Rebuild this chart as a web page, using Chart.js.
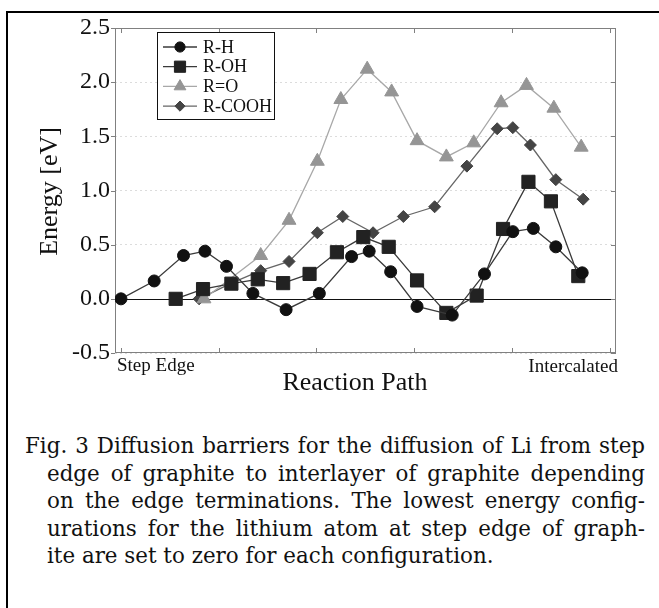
<!DOCTYPE html>
<html>
<head>
<meta charset="utf-8">
<title>Diffusion barriers</title>
<script src="https://cdn.jsdelivr.net/npm/chart.js@4.4.1/dist/chart.umd.min.js"></script>
<style>
  html, body { margin: 0; padding: 0; background: #fff; overflow: hidden; }
  #page { position: relative; width: 659px; height: 608px; overflow: hidden; }
  #frame { position: absolute; left: 6px; top: 11px; width: 720px; height: 720px;
           border-top: 2px solid #000; border-left: 2px solid #000; }
  #wrap { position: absolute; left: 0; top: 0; width: 659px; height: 420px; }
  .cl { position: absolute; font-family: 'DejaVu Serif', serif; color: #111;
        line-height: 27.5px; text-align: justify; text-align-last: justify; }
  .cl.last { text-align: left; text-align-last: left; }
</style>
</head>
<body>
<div id="page">
<div id="frame"></div>
<div id="wrap"><canvas id="energyChart" width="659" height="420"></canvas></div>
<div id="caption"></div>
</div>

<script>
// reaction path coordinate (tick every 1 unit), energies in eV
const rhX = [0, 0.34, 0.64, 0.86, 1.08, 1.35, 1.69, 2.03, 2.36, 2.54, 2.76, 3.03, 3.39, 3.72, 4.01, 4.22, 4.45, 4.72];
const rhY = [0, 0.165, 0.40, 0.44, 0.30, 0.05, -0.10, 0.05, 0.39, 0.44, 0.25, -0.07, -0.15, 0.23, 0.62, 0.65, 0.48, 0.24];

const rohX = [0.56, 0.84, 1.13, 1.40, 1.66, 1.93, 2.21, 2.48, 2.74, 3.03, 3.33, 3.64, 3.91, 4.17, 4.40, 4.68];
const rohY = [0, 0.09, 0.14, 0.18, 0.145, 0.23, 0.43, 0.57, 0.48, 0.17, -0.13, 0.03, 0.645, 1.08, 0.90, 0.21];

const roX = [0.85, 1.43, 1.72, 2.01, 2.25, 2.52, 2.77, 3.03, 3.33, 3.61, 3.89, 4.15, 4.43, 4.71];
const roY = [0, 0.40, 0.725, 1.27, 1.84, 2.12, 1.91, 1.46, 1.31, 1.44, 1.81, 1.97, 1.76, 1.40];

const rcoohX = [0.80, 1.13, 1.43, 1.72, 2.01, 2.27, 2.58, 2.89, 3.21, 3.54, 3.85, 4.01, 4.19, 4.45, 4.73];
const rcoohY = [0, 0.145, 0.26, 0.345, 0.61, 0.76, 0.61, 0.76, 0.85, 1.225, 1.57, 1.58, 1.42, 1.10, 0.92];

const seriesNames = ['R-H', 'R-OH', 'R=O', 'R-COOH'];
const pathTicks = [0, 1, 2, 3, 4, 5];
const yTickStep = 0.5;

const captionLines = [
    'Fig. 3 Diffusion barriers for the diffusion of Li from step',
    'edge of graphite to interlayer of graphite depending',
    'on the edge terminations. The lowest energy config-',
    'urations for the lithium atom at step edge of graph-',
    'ite are set to zero for each configuration.'
];

const SERIF = "'Liberation Serif', 'Times New Roman', serif";

function toPoints(xs, ys) {
    return xs.map((x, i) => ({ x: x, y: ys[i] }));
}

function drawMarker(ctx, ds, x, y) {
    const opts = { pointStyle: ds.pointStyle, radius: ds.pointRadius, rotation: 0, borderWidth: ds.pointBorderWidth };
    ctx.fillStyle = ds.pointBackgroundColor;
    ctx.strokeStyle = ds.pointBorderColor;
    ctx.lineWidth = ds.pointBorderWidth;
    if (Chart.helpers && Chart.helpers.drawPoint) {
        Chart.helpers.drawPoint(ctx, opts, x, y);
    } else {
        ctx.beginPath();
        ctx.arc(x, y, ds.pointRadius, 0, Math.PI * 2);
        ctx.fill();
    }
}

const decorPlugin = {
    id: 'decor',
    beforeDatasetsDraw(chart) {
        const { ctx, chartArea: a, scales: { x, y } } = chart;
        ctx.save();
        // zero line
        const y0 = Math.round(y.getPixelForValue(0)) + 0.5;
        ctx.strokeStyle = '#111';
        ctx.lineWidth = 1.2;
        ctx.beginPath();
        ctx.moveTo(a.left, y0);
        ctx.lineTo(a.right, y0);
        ctx.stroke();

        // axes frame
        ctx.strokeStyle = '#808080';
        ctx.lineWidth = 1;
        ctx.strokeRect(a.left + 0.5, a.top + 0.5, a.right - a.left - 1, a.bottom - a.top - 1);

        // tick marks
        ctx.beginPath();
        pathTicks.forEach(v => {
            const px = Math.round(x.getPixelForValue(v)) + 0.5;
            ctx.moveTo(px, a.top); ctx.lineTo(px, a.top + 5);
            ctx.moveTo(px, a.bottom); ctx.lineTo(px, a.bottom - 5);
        });
        y.ticks.forEach(t => {
            const py = Math.round(y.getPixelForValue(t.value)) + 0.5;
            ctx.moveTo(a.right, py); ctx.lineTo(a.right - 5, py);
            ctx.moveTo(a.left, py); ctx.lineTo(a.left - 4, py);
        });
        ctx.stroke();
        ctx.restore();
    },
    afterDraw(chart) {
        const { ctx, chartArea: a } = chart;
        ctx.save();
        ctx.fillStyle = '#111';
        ctx.textBaseline = 'middle';

        // y title
        ctx.save();
        ctx.translate(50, (a.top + a.bottom) / 2 + 1);
        ctx.rotate(-Math.PI / 2);
        ctx.textAlign = 'center';
        ctx.font = '26px ' + SERIF;
        ctx.fillText('Energy [eV]', 0, 0);
        ctx.restore();

        // x title and end labels
        ctx.font = '26px ' + SERIF;
        ctx.textAlign = 'center';
        ctx.fillText('Reaction Path', 355, a.bottom + 30);
        ctx.font = '19px ' + SERIF;
        ctx.textAlign = 'left';
        ctx.fillText('Step Edge', a.left + 2, a.bottom + 13);
        ctx.textAlign = 'right';
        ctx.fillText('Intercalated', a.right + 2, a.bottom + 14);

        // legend
        const lx = 157, ly = 32, lw = 117, lh = 87;
        ctx.fillStyle = '#fff';
        ctx.fillRect(lx, ly, lw, lh);
        ctx.strokeStyle = '#111';
        ctx.lineWidth = 1;
        ctx.strokeRect(lx + 0.5, ly + 0.5, lw, lh);
        ctx.font = '18px ' + SERIF;
        ctx.textAlign = 'left';
        chart.data.datasets.forEach((ds, i) => {
            const ry = ly + 15 + i * 19.7;
            ctx.strokeStyle = ds.borderColor;
            ctx.lineWidth = ds.borderWidth;
            ctx.beginPath();
            ctx.moveTo(lx + 6, ry);
            ctx.lineTo(lx + 40, ry);
            ctx.stroke();
            drawMarker(ctx, Object.assign({}, ds, { pointRadius: ds.pointRadius * 0.85 }), lx + 23, ry);
            ctx.fillStyle = '#111';
            ctx.fillText(ds.label, lx + 46, ry + 1);
        });
        ctx.restore();
    }
};

const styles = [
    { pointStyle: 'circle', pointRadius: 6, line: '#3a3a3a', fill: '#111' },
    { pointStyle: 'rect', pointRadius: 9.3, line: '#3a3a3a', fill: '#222' },
    { pointStyle: 'triangle', pointRadius: 8, line: '#a8a8a8', fill: '#959595' },
    { pointStyle: 'rectRot', pointRadius: 6, line: '#666', fill: '#444' }
];
const seriesData = [toPoints(rhX, rhY), toPoints(rohX, rohY), toPoints(roX, roY), toPoints(rcoohX, rcoohY)];

const datasets = seriesNames.map((name, i) => ({
    label: name,
    data: seriesData[i],
    borderColor: styles[i].line,
    borderWidth: 1.3,
    pointStyle: styles[i].pointStyle,
    pointRadius: styles[i].pointRadius,
    pointBackgroundColor: styles[i].fill,
    pointBorderColor: styles[i].fill,
    pointBorderWidth: 1,
    tension: 0,
    fill: false
}));

new Chart(document.getElementById('energyChart'), {
    type: 'line',
    data: { datasets: datasets },
    options: {
        responsive: false,
        animation: false,
        events: [],
        layout: { padding: { left: 0, right: 43, top: 28, bottom: 0 } },
        plugins: { legend: { display: false }, tooltip: { enabled: false } },
        scales: {
            x: {
                type: 'linear',
                min: -0.061,
                max: 5.066,
                ticks: { display: false },
                grid: { display: false },
                border: { display: false },
                afterFit: s => { s.height = 67; }
            },
            y: {
                min: -0.5,
                max: 2.5,
                ticks: {
                    stepSize: yTickStep,
                    padding: 5,
                    color: '#111',
                    font: { family: SERIF, size: 24 },
                    callback: v => Number(v).toFixed(1)
                },
                grid: {
                    drawTicks: false,
                    lineWidth: 1,
                    color: c => (c.tick && c.tick.value === 0) ? 'rgba(0,0,0,0)' : '#dcdcdc'
                },
                border: { display: false, dash: [2, 3] },
                afterFit: s => { s.width = 115; }
            }
        }
    },
    plugins: [decorPlugin]
});

// caption, justified like the printed figure
(function layoutCaption() {
    const m = document.createElement('canvas').getContext('2d');
    m.font = "100px 'DejaVu Serif'";
    const lefts = [25, 47, 47, 47, 47];
    const widths = [620, 598, 598, 598, 0];
    let size = 100;
    for (let i = 0; i < 4; i++) {
        size = Math.min(size, widths[i] / m.measureText(captionLines[i]).width * 100);
    }
    size = Math.floor(size * 0.985 * 10) / 10;
    const cap = document.getElementById('caption');
    captionLines.forEach((line, i) => {
        const d = document.createElement('div');
        d.className = 'cl' + (i === captionLines.length - 1 ? ' last' : '');
        d.textContent = line;
        d.style.left = lefts[i] + 'px';
        d.style.top = (432 + i * 27.5) + 'px';
        d.style.fontSize = size + 'px';
        if (widths[i]) d.style.width = widths[i] + 'px';
        else d.style.whiteSpace = 'nowrap';
        cap.appendChild(d);
    });
})();
</script>
</body>
</html>
